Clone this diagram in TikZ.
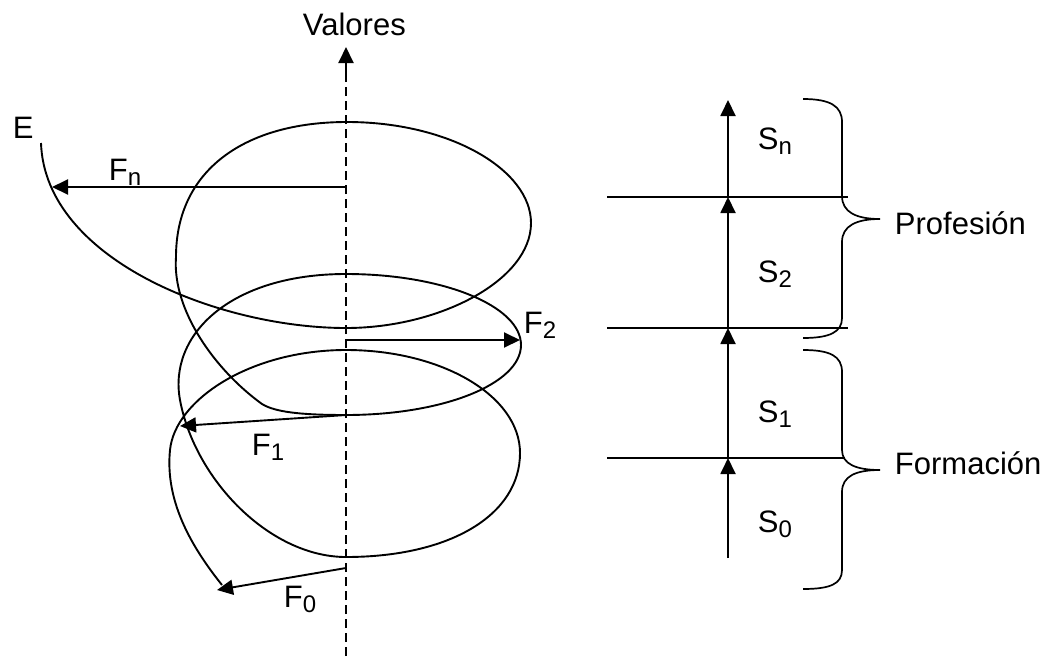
\documentclass[tikz,border=0pt]{standalone}
\usepackage{fontspec}
\setmainfont{Liberation Sans}
\usetikzlibrary{arrows.meta}
\newcommand{\lbsub}[2]{#1\raisebox{-5pt}{\fontsize{24}{24}\selectfont #2}}
\begin{document}
\begin{tikzpicture}[x=1pt,y=-1pt,line width=1.9pt,
  tipped/.style={-{Triangle[length=16pt,width=15pt]}},
  txt/.style={font=\fontsize{31}{36}\selectfont,inner sep=0pt,anchor=base west},
  axisline/.style={dash pattern=on 9pt off 5pt}]
\useasboundingbox (0,0) rectangle (1048,656);
% axis
\coordinate (axb) at (346,656);
\coordinate (axm) at (346,80);
\coordinate (axt) at (346,47);
\draw[axisline] (axb) -- (axm);
\draw[tipped] (axm) -- (axt);
\node[txt] (valores) at (302,35) {Valores};
% spiral
\coordinate (s0) at (222,585);
\coordinate (eend) at (41,143);
\draw (s0) .. controls (190,545) and (165,500) .. (170,450)
  .. controls (175,400) and (250,350) .. (346,350)
  .. controls (442,350) and (520,396) .. (520,453)
  .. controls (520,515) and (450,557) .. (346,557)
  .. controls (270,557) and (195,480) .. (180,400)
  .. controls (168,335) and (230,274) .. (346,274)
  .. controls (443,274) and (521,306) .. (521,345)
  .. controls (521,384) and (443,415) .. (346,415)
  .. controls (300,415) and (275,412) .. (262,404)
  .. controls (215,370) and (172,310) .. (176,257)
  .. controls (176,170) and (245,122) .. (347,122)
  .. controls (450,122) and (531,170) .. (531,223)
  .. controls (531,280) and (440,328) .. (346,328)
  .. controls (220,328) and (45,260) .. (eend);
% force arrows
\coordinate (fna) at (346,187); \coordinate (fnb) at (52,187);
\coordinate (f2a) at (346,340); \coordinate (f2b) at (520,340);
\coordinate (f1a) at (346,415); \coordinate (f1b) at (180,426);
\coordinate (f0a) at (346,568); \coordinate (f0b) at (217,590);
\draw[tipped] (fna) -- (fnb);
\draw[tipped] (f2a) -- (f2b);
\draw[tipped] (f1a) -- (f1b);
\draw[tipped] (f0a) -- (f0b);
\node[txt] (E) at (12,138) {E};
\node[txt] (Fn) at (108,180) {\lbsub{F}{n}};
\node[txt] (F2) at (523,333) {\lbsub{F}{2}};
\node[txt] (F1) at (251,455) {\lbsub{F}{1}};
\node[txt] (F0) at (283,607) {\lbsub{F}{0}};
% right scale
\coordinate (v0) at (728,558); \coordinate (v1) at (728,458);
\coordinate (v2) at (728,328); \coordinate (v3) at (728,197);
\coordinate (v4) at (728,100);
\draw[tipped] (v0) -- (v1);
\draw[tipped] (v1) -- (v2);
\draw[tipped] (v2) -- (v3);
\draw[tipped] (v3) -- (v4);
\coordinate (h1a) at (607,197); \coordinate (h1b) at (848,197);
\coordinate (h2a) at (607,328); \coordinate (h2b) at (848,328);
\coordinate (h3a) at (607,458); \coordinate (h3b) at (845,458);
\draw (h1a) -- (h1b);
\draw (h2a) -- (h2b);
\draw (h3a) -- (h3b);
\node[txt] (Sn) at (757,149) {\lbsub{S}{n}};
\node[txt] (S2) at (757,282) {\lbsub{S}{2}};
\node[txt] (S1) at (757,422) {\lbsub{S}{1}};
\node[txt] (S0) at (757,532) {\lbsub{S}{0}};
% braces
\coordinate (pb1) at (803,99); \coordinate (pt) at (880,219); \coordinate (pb2) at (803,338);
\draw[line width=1.7pt] (pb1) .. controls (830,99) and (842,106) .. (842,122) -- (842,196)
  .. controls (842,212) and (856,219) .. (pt)
  .. controls (856,219) and (842,226) .. (842,242) -- (842,318)
  .. controls (842,332) and (830,338) .. (pb2);
\coordinate (fb1) at (803,350); \coordinate (ft) at (880,470); \coordinate (fb2) at (803,589);
\draw[line width=1.7pt] (fb1) .. controls (830,350) and (842,356) .. (842,372) -- (842,450)
  .. controls (842,464) and (856,470) .. (ft)
  .. controls (856,470) and (842,476) .. (842,492) -- (842,570)
  .. controls (842,584) and (830,589) .. (fb2);
\node[txt] (prof) at (894,234) {Profesión};
\node[txt] (form) at (894,474) {Formación};
\end{tikzpicture}
\end{document}
